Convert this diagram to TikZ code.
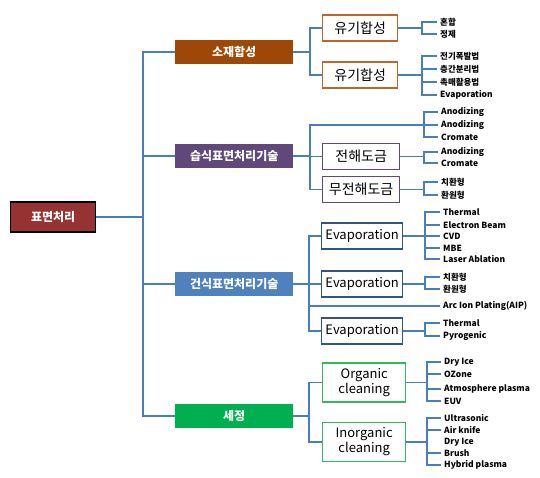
\documentclass[tikz,border=0pt]{standalone}
\usepackage{fontspec}
\setmainfont{Noto Sans CJK KR}
\definecolor{linkblue}{RGB}{74,126,187}
\definecolor{rootred}{RGB}{150,50,50}
\definecolor{synbrown}{RGB}{158,72,8}
\definecolor{wetpurple}{RGB}{96,73,122}
\definecolor{dryblue}{RGB}{79,129,189}
\definecolor{cleangreen}{RGB}{0,176,80}
\definecolor{synedge}{RGB}{192,100,40}
\definecolor{dryedge}{RGB}{50,85,135}
\definecolor{cleanedge}{RGB}{50,185,90}
\tikzset{
  link/.style={draw=linkblue, line width=1.3pt},
  topbox/.style={anchor=west, minimum width=118pt, minimum height=24pt, inner sep=0pt,
    text=white, font=\fontsize{12}{12}\selectfont\bfseries},
  subbox/.style={anchor=west, draw, line width=1.3pt, fill=white, inner sep=0pt,
    minimum height=26pt, align=center, font=\fontsize{13}{15}\selectfont},
  hangul/.style={font=\fontsize{14}{15}\selectfont},
  leaf/.style={anchor=west, inner sep=0pt, inner xsep=3pt, font=\fontsize{8.5}{9}\selectfont\bfseries},
}
\begin{document}
\begin{tikzpicture}[x=1pt, y=-1pt]
  \useasboundingbox (0,0) rectangle (540,478);

  % root and first level
  \node[anchor=west, draw=black, line width=1.2pt, fill=rootred, text=white, minimum width=85pt,
    minimum height=30pt, inner sep=0pt, font=\fontsize{12}{12}\selectfont\bfseries] (root) at (10,217) {표면처리};
  \node[topbox, fill=synbrown] (syn) at (175,52) {소재합성};
  \node[topbox, fill=wetpurple] (wet) at (175,156) {습식표면처리기술};
  \node[topbox, fill=dryblue] (dry) at (175,284) {건식표면처리기술};
  \node[topbox, fill=cleangreen] (clean) at (175,416) {세정};

  \coordinate (trunk) at (143,217);
  \draw[link] (root.east) -- (trunk);
  \draw[link] (syn.west) -| (trunk) |- (clean.west);
  \draw[link] (wet.west) -- (wet.west -| trunk);
  \draw[link] (dry.west) -- (dry.west -| trunk);

  % second level
  \node[subbox, hangul, draw=synedge, minimum width=75pt] (syn1) at (322,28) {유기합성};
  \node[subbox, hangul, draw=synedge, minimum width=75pt] (syn2) at (322,75) {유기합성};
  \node[subbox, hangul, draw=wetpurple, minimum width=77pt] (wet1) at (322,156.5) {전해도금};
  \node[subbox, hangul, draw=wetpurple, minimum width=77pt] (wet2) at (322,189.5) {무전해도금};
  \node[subbox, draw=dryedge, minimum width=81pt] (dry1) at (321,236) {Evaporation};
  \node[subbox, draw=dryedge, minimum width=81pt] (dry2) at (321,284) {Evaporation};
  \node[subbox, draw=dryedge, minimum width=81pt] (dry3) at (321,331) {Evaporation};
  \node[subbox, draw=cleanedge, minimum width=83pt, minimum height=39pt] (cln1) at (322,382.5) {Organic\\cleaning};
  \node[subbox, draw=cleanedge, minimum width=83pt, minimum height=39pt] (cln2) at (322,442) {Inorganic\\cleaning};

  \coordinate (jsyn) at (310,52);
  \draw[link] (syn.east) -- (jsyn);
  \draw[link] (syn1.west) -| (jsyn) |- (syn2.west);

  \coordinate (jwet) at (310,156);
  \coordinate (gwet0) at (424,125);
  \draw[link] (wet.east) -- (jwet);
  \draw[link] (gwet0) -| (jwet) |- (wet2.west);
  \draw[link] (wet1.west) -- (wet1.west -| jwet);

  \coordinate (jdry) at (309,284);
  \node[leaf] (aip) at (440,306) {Arc Ion Plating(AIP)};
  \draw[link] (dry.east) -- (dry2.west);
  \draw[link] (dry1.west) -| (jdry) |- (dry3.west);
  \draw[link] (aip.west) -- (aip.west -| jdry);

  \coordinate (jcln) at (309,416);
  \draw[link] (clean.east) -- (jcln);
  \draw[link] (cln1.west) -| (jcln) |- (cln2.west);

  % leaves
  \coordinate (gsyn1) at (422,28);
  \node[leaf] (s11) at (437,22) {혼합};
  \node[leaf] (s12) at (437,34) {정제};
  \draw[link] (syn1.east) -- (gsyn1);
  \draw[link] (s11.west) -| (gsyn1) |- (s12.west);

  \coordinate (gsyn2) at (422,75);
  \node[leaf] (s21) at (437,56) {전기폭발법};
  \node[leaf] (s22) at (437,69) {층간분리법};
  \node[leaf] (s23) at (437,82) {촉매활용법};
  \node[leaf] (s24) at (437,95) {Evaporation};
  \draw[link] (syn2.east) -- (gsyn2);
  \draw[link] (s21.west) -| (gsyn2) |- (s24.west);
  \draw[link] (s22.west) -- (s22.west -| gsyn2);
  \draw[link] (s23.west) -- (s23.west -| gsyn2);

  \node[leaf] (w01) at (438,112) {Anodizing};
  \node[leaf] (w02) at (438,125) {Anodizing};
  \node[leaf] (w03) at (438,137) {Cromate};
  \draw[link] (w01.west) -| (gwet0) |- (w03.west);
  \draw[link] (w02.west) -- (gwet0);

  \coordinate (gwet1) at (424,157);
  \node[leaf] (w11) at (438,152) {Anodizing};
  \node[leaf] (w12) at (438,163) {Cromate};
  \draw[link] (wet1.east) -- (wet1.east -| gwet1);
  \draw[link] (w11.west) -| (gwet1) |- (w12.west);

  \coordinate (gwet2) at (424,189.5);
  \node[leaf] (w21) at (438,182) {치환형};
  \node[leaf] (w22) at (438,195) {환원형};
  \draw[link] (wet2.east) -- (gwet2);
  \draw[link] (w21.west) -| (gwet2) |- (w22.west);

  \coordinate (gdry1) at (425,236);
  \node[leaf] (d11) at (440,212) {Thermal};
  \node[leaf] (d12) at (440,225) {Electron Beam};
  \node[leaf] (d13) at (440,236) {CVD};
  \node[leaf] (d14) at (440,248) {MBE};
  \node[leaf] (d15) at (440,259) {Laser Ablation};
  \draw[link] (dry1.east) -- (gdry1);
  \draw[link] (d11.west) -| (gdry1) |- (d15.west);
  \draw[link] (d12.west) -- (d12.west -| gdry1);
  \draw[link] (d13.west) -- (d13.west -| gdry1);
  \draw[link] (d14.west) -- (d14.west -| gdry1);

  \coordinate (gdry2) at (425,284);
  \node[leaf] (d21) at (440,277) {치환형};
  \node[leaf] (d22) at (440,289) {환원형};
  \draw[link] (dry2.east) -- (gdry2);
  \draw[link] (d21.west) -| (gdry2) |- (d22.west);

  \coordinate (gdry3) at (425,331);
  \node[leaf] (d31) at (440,323) {Thermal};
  \node[leaf] (d32) at (440,336) {Pyrogenic};
  \draw[link] (dry3.east) -- (gdry3);
  \draw[link] (d31.west) -| (gdry3) |- (d32.west);

  \coordinate (gcln1) at (427,382.5);
  \node[leaf] (c11) at (441,362) {Dry Ice};
  \node[leaf] (c12) at (441,374) {OZone};
  \node[leaf] (c13) at (441,389) {Atmosphere plasma};
  \node[leaf] (c14) at (441,401) {EUV};
  \draw[link] (cln1.east) -- (gcln1);
  \draw[link] (c11.west) -| (gcln1) |- (c14.west);
  \draw[link] (c12.west) -- (c12.west -| gcln1);
  \draw[link] (c13.west) -- (c13.west -| gcln1);

  \coordinate (gcln2) at (427,442);
  \node[leaf] (c21) at (441,418) {Ultrasonic};
  \node[leaf] (c22) at (441,430) {Air knife};
  \node[leaf] (c23) at (441,442) {Dry Ice};
  \node[leaf] (c24) at (441,453) {Brush};
  \node[leaf] (c25) at (441,465) {Hybrid plasma};
  \draw[link] (cln2.east) -- (gcln2);
  \draw[link] (c21.west) -| (gcln2) |- (c25.west);
  \draw[link] (c22.west) -- (c22.west -| gcln2);
  \draw[link] (c24.west) -- (c24.west -| gcln2);
\end{tikzpicture}
\end{document}
